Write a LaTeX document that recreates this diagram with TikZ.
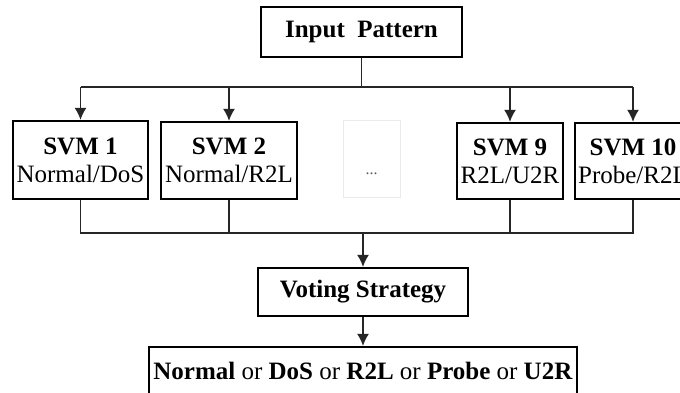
\documentclass[tikz,border=0pt]{standalone}
\usepackage{fontspec}
\setmainfont{Liberation Serif}
\usetikzlibrary{arrows.meta}
\begin{document}
\begin{tikzpicture}[x=1pt,y=-1pt,
  box/.style={draw=black,line width=2.2pt,fill=white,inner sep=0pt,align=center,
    font=\fontsize{25}{28}\selectfont},
  wire/.style={line width=1.8pt,draw=black!85},
  feed/.style={wire,-{Latex[length=12pt,width=12pt]}}]
\useasboundingbox[fill=white] (0,0) rectangle (680,392);

% boxes
\node[box,minimum width=201,minimum height=50] (inp) at (361.5,32) {\textbf{Input\ \ Pattern}};
\node[box,minimum width=135,minimum height=78] (s1) at (80.5,160) {\textbf{SVM 1}\\Normal/DoS};
\node[box,minimum width=136,minimum height=77] (s2) at (229,160.5) {\textbf{SVM 2}\\Normal/R2L};
\node[box,draw=black!8,line width=0.8pt,minimum width=57,minimum height=77,
      font=\fontsize{16}{28}\selectfont,text=black!65] (dots) at (371.5,158.5) {\mbox{}\\\raisebox{-5pt}{...}};
\node[box,minimum width=106,minimum height=76] (s9) at (510,161) {\textbf{SVM 9}\\R2L/U2R};
\node[box,minimum width=116,minimum height=76] (s10) at (633,161) {\textbf{SVM 10}\\Probe/R2L};
\node[box,minimum width=210,minimum height=48] (vote) at (363,292) {\textbf{Voting Strategy}};
\node[box,minimum width=428,minimum height=48] (out) at (363,371)
  {\textbf{Normal} or \textbf{DoS} or \textbf{R2L} or \textbf{Probe} or \textbf{U2R}};

% fan-out bus
\coordinate (top) at (361.5,87);
\coordinate (topL) at (80.5,87);
\coordinate (topR) at (633,87);
\draw[wire] (inp.south) -- (top);
\draw[wire] (topL) -- (topR);
\draw[feed] (topL) -- (s1.north);
\draw[feed] (s2.north |- top) -- (s2.north);
\draw[feed] (s9.north |- top) -- (s9.north);
\draw[feed] (topR) -- (s10.north);

% fan-in bus
\coordinate (botL) at (80.5,233);
\coordinate (botR) at (633,233);
\coordinate (bot) at (363,233);
\draw[wire] (s1.south) -- (botL) -- (botR) -- (s10.south);
\draw[wire] (s2.south) -- (s2.south |- bot);
\draw[wire] (s9.south) -- (s9.south |- bot);
\draw[feed] (bot) -- (vote.north);
\draw[feed] (vote.south) -- (out.north);
\end{tikzpicture}
\end{document}
